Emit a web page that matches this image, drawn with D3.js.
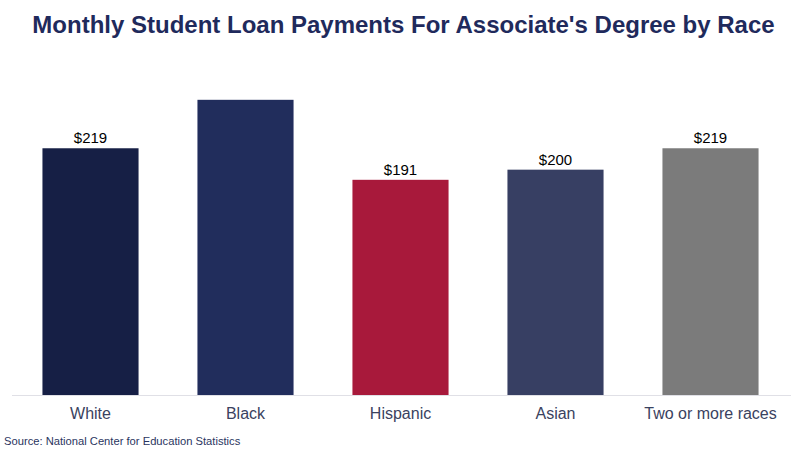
<!DOCTYPE html>
<html><head><meta charset="utf-8">
<script src="https://cdn.jsdelivr.net/npm/d3@7"></script>
<style>body{margin:0;background:#fff}svg{display:block;font-family:"Liberation Sans",Arial,sans-serif}</style>
</head><body><svg id="c" width="805" height="450"></svg>
<script>
const categories = ["White", "Black", "Hispanic", "Asian", "Two or more races"];
const values = [219, 262, 191, 200, 219];
const colors = ["#161f45", "#212d5c", "#a8193b", "#373f63", "#7b7b7b"];
const hiddenLabels = ["Black"];

const svg = d3.select("#c");
const W = 805, H = 450;
const m = {left: 13, right: 17, top: 57, bottom: 55};
const x = d3.scaleBand().domain(categories).range([m.left, W - m.right]).paddingInner(0.38).paddingOuter(0.19);
const y = d3.scaleLinear().domain([0, 300]).range([H - m.bottom, m.top]);

svg.append("text").attr("x", W/2 + 1).attr("y", 33).attr("text-anchor", "middle")
  .attr("font-size", 24).attr("font-weight", "bold").attr("fill", "#1f2a5c")
  .text("Monthly Student Loan Payments For Associate's Degree by Race");

const data = categories.map((c, i) => ({c, v: values[i], col: colors[i]}));
svg.selectAll("rect.bar").data(data).join("rect").attr("class", "bar")
  .attr("x", d => x(d.c)).attr("width", x.bandwidth())
  .attr("y", d => y(d.v)).attr("height", d => y(0) - y(d.v)).attr("fill", d => d.col);

const xAxis = svg.append("g").attr("transform", `translate(0,${y(0)})`)
  .call(d3.axisBottom(x).tickSize(0).tickPadding(13));
xAxis.select(".domain").attr("stroke", "#e0e0e6").attr("d", `M${m.left - 1},0.5H${W - m.right + 3}`);
xAxis.selectAll("text").attr("font-size", 16).attr("fill", "#3a4260").attr("font-family", "Liberation Sans, Arial, sans-serif");

svg.selectAll("text.lbl").data(data.filter(d => !hiddenLabels.includes(d.c))).join("text").attr("class", "lbl")
  .attr("x", d => x(d.c) + x.bandwidth()/2).attr("y", d => y(d.v) - 5)
  .attr("text-anchor", "middle").attr("font-size", 15).attr("fill", "#000")
  .text(d => "$" + d.v);

svg.append("text").attr("x", 4).attr("y", 445).attr("font-size", 11.2).attr("fill", "#2a3560")
  .text("Source: National Center for Education Statistics");
</script></body></html>
